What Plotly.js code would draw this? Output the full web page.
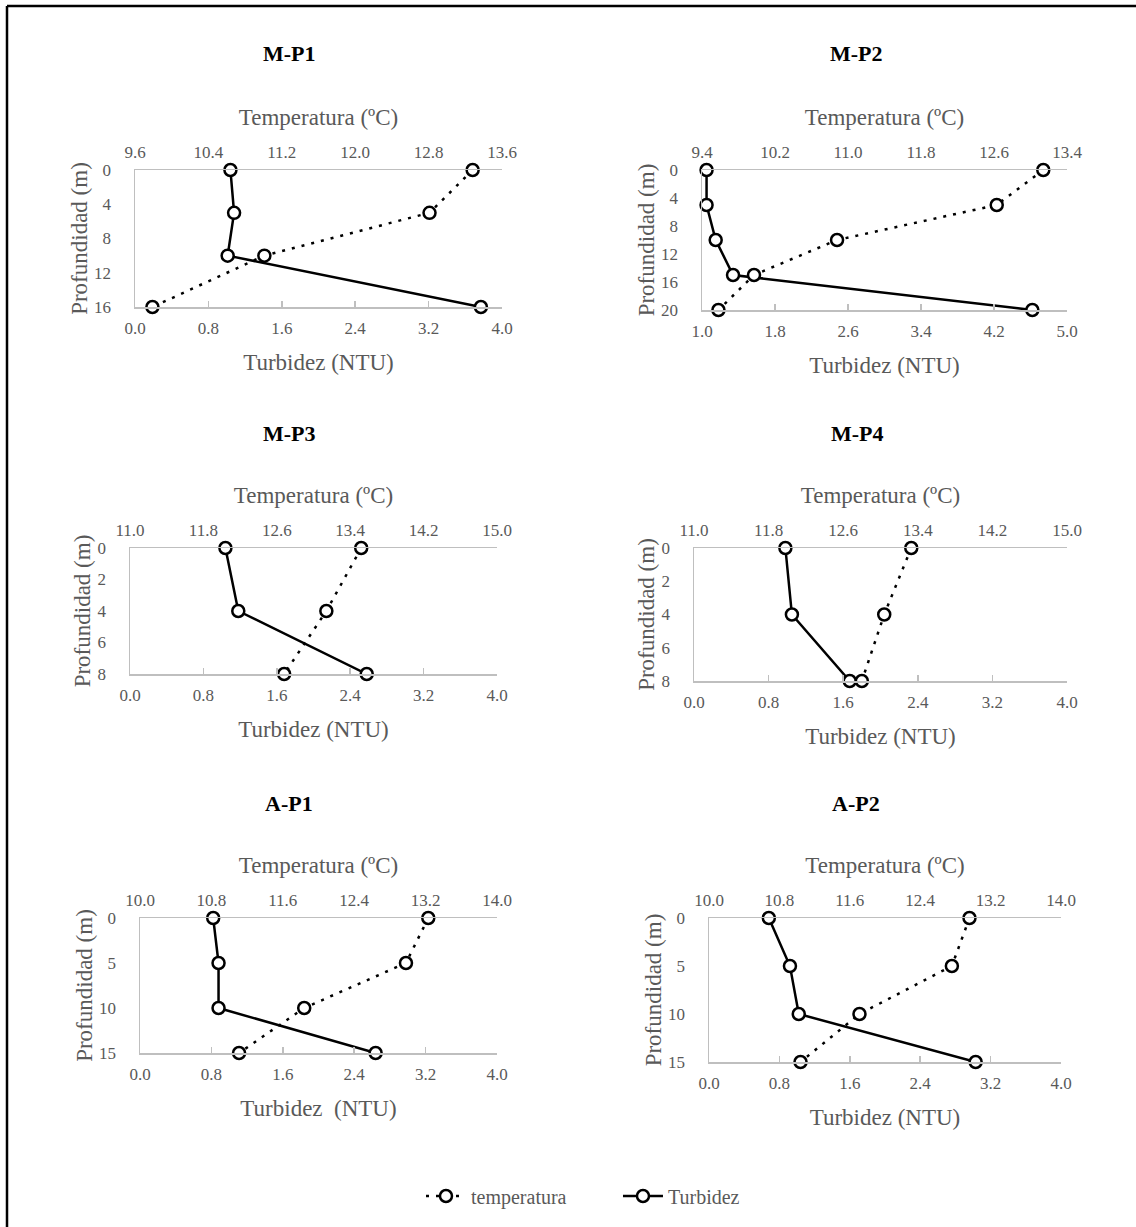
<!DOCTYPE html>
<html>
<head>
<meta charset="utf-8">
<script src="https://cdn.plot.ly/plotly-3.0.1.min.js"></script>
<style>html,body{margin:0;padding:0;background:#fff;}</style>
</head>
<body>
<div id="chart" style="width:1136px;height:1227px;"></div>
<script>
// ---- Data ----
const panelNames = ['M-P1', 'M-P2', 'M-P3', 'M-P4', 'A-P1', 'A-P2'];

const depthMP1 = [0, 5, 10, 16];
const tempMP1  = [13.28, 12.81, 11.01, 9.79];
const turbMP1  = [1.04, 1.08, 1.01, 3.77];

const depthMP2 = [0, 5, 10, 15, 20];
const tempMP2  = [13.14, 12.63, 10.88, 9.97, 9.58];
const turbMP2  = [1.05, 1.05, 1.15, 1.34, 4.62];

const depthMP3 = [0, 4, 8];
const tempMP3  = [13.52, 13.14, 12.68];
const turbMP3  = [1.04, 1.18, 2.58];

const depthMP4 = [0, 4, 8];
const tempMP4  = [13.33, 13.04, 12.80];
const turbMP4  = [0.98, 1.05, 1.67];

const depthAP1 = [0, 5, 10, 15];
const tempAP1  = [13.23, 12.98, 11.84, 11.11];
const turbAP1  = [0.82, 0.88, 0.88, 2.64];

const depthAP2 = [0, 5, 10, 15];
const tempAP2  = [12.96, 12.76, 11.71, 11.04];
const turbAP2  = [0.68, 0.92, 1.02, 3.03];

// axis ranges / ticks
const tempRanges  = [[9.6, 13.6], [9.4, 13.4], [11.0, 15.0], [11.0, 15.0], [10.0, 14.0], [10.0, 14.0]];
const turbRanges  = [[0, 4], [1, 5], [0, 4], [0, 4], [0, 4], [0, 4]];
const depthMax    = [16, 20, 8, 8, 15, 15];
const depthStep   = [4, 4, 2, 2, 5, 5];
const turbTitles  = ['Turbidez (NTU)', 'Turbidez (NTU)', 'Turbidez (NTU)', 'Turbidez (NTU)', 'Turbidez  (NTU)', 'Turbidez (NTU)'];

const seriesNames = ['temperatura', 'Turbidez'];
const tempTitle = 'Temperatura (ºC)';
const depthTitle = 'Profundidad (m)';

const depths = [depthMP1, depthMP2, depthMP3, depthMP4, depthAP1, depthAP2];
const temps  = [tempMP1, tempMP2, tempMP3, tempMP4, tempAP1, tempAP2];
const turbs  = [turbMP1, turbMP2, turbMP3, turbMP4, turbAP1, turbAP2];

// ---- Layout geometry (pixels in the 1136x1227 figure) ----
const W = 1136, H = 1227;
const boxes = [
  {x0: 135, x1: 502, y0: 170, y1: 307, tx: 289, ty: 53},
  {x0: 702, x1: 1067, y0: 170, y1: 310, tx: 856, ty: 53},
  {x0: 130, x1: 497, y0: 548, y1: 674, tx: 289, ty: 433},
  {x0: 694, x1: 1067, y0: 548, y1: 681, tx: 857, ty: 433},
  {x0: 140, x1: 497, y0: 918, y1: 1053, tx: 289, ty: 803},
  {x0: 709, x1: 1061, y0: 918, y1: 1062, tx: 856, ty: 803}
];

const FONT = 'Liberation Serif, Times New Roman, serif';
const GRAY_TEXT = '#595959';
const AXIS_GRAY = '#bfbfbf';

const markerStyle = {symbol: 'circle', size: 12, color: '#ffffff', line: {color: '#000000', width: 2.5}};

const traces = [];
const layout = {
  width: W, height: H,
  margin: {l: 0, r: 0, t: 0, b: 0},
  paper_bgcolor: '#ffffff',
  plot_bgcolor: 'rgba(0,0,0,0)',
  font: {family: FONT, color: GRAY_TEXT},
  showlegend: true,
  legend: {
    orientation: 'h', x: 0.544, y: 1 - 1196 / H, xanchor: 'center', yanchor: 'middle',
    font: {family: FONT, size: 20, color: GRAY_TEXT}, itemwidth: 40, entrywidth: 142
  },
  annotations: [],
  shapes: [
    {type: 'line', xref: 'paper', yref: 'paper', x0: 7 / W, x1: 7 / W, y0: 1 - 6 / H, y1: 0, line: {color: '#000', width: 2.5}},
    {type: 'line', xref: 'paper', yref: 'paper', x0: 7 / W, x1: 1, y0: 1 - 6 / H, y1: 1 - 6 / H, line: {color: '#000', width: 2.5}}
  ]
};

for (let i = 0; i < 6; i++) {
  const b = boxes[i];
  const xb = 'x' + (2 * i + 1), xt = 'x' + (2 * i + 2), y = 'y' + (i + 1);
  const xbKey = 'xaxis' + (2 * i + 1), xtKey = 'xaxis' + (2 * i + 2), yKey = 'yaxis' + (i + 1);
  const xdom = [b.x0 / W, b.x1 / W];
  const ydom = [1 - b.y1 / H, 1 - b.y0 / H];

  traces.push({
    type: 'scatter', mode: 'lines+markers', name: seriesNames[0],
    x: temps[i], y: depths[i], xaxis: xt, yaxis: y,
    line: {color: '#000', width: 2.5, dash: '3px,7px'},
    marker: markerStyle, cliponaxis: false,
    showlegend: i === 0, legendgroup: 'temp'
  });
  traces.push({
    type: 'scatter', mode: 'lines+markers', name: seriesNames[1],
    x: turbs[i], y: depths[i], xaxis: xb, yaxis: y,
    line: {color: '#000', width: 2.5},
    marker: markerStyle, cliponaxis: false,
    showlegend: i === 0, legendgroup: 'turb'
  });

  layout[xbKey] = {
    domain: xdom, anchor: y, side: 'bottom',
    range: turbRanges[i], tick0: turbRanges[i][0], dtick: 0.8, tickformat: '.1f',
    showline: true, linecolor: AXIS_GRAY, linewidth: 1.5,
    ticks: 'inside', ticklen: 6, tickcolor: AXIS_GRAY, tickwidth: 1.5,
    showgrid: false, zeroline: false, ticklabelstandoff: 5,
    tickfont: {family: FONT, size: 17, color: GRAY_TEXT},
    title: {text: turbTitles[i], font: {family: FONT, size: 23, color: GRAY_TEXT}, standoff: 17},
    fixedrange: true
  };
  layout[xtKey] = {
    overlaying: xb, anchor: y, side: 'top',
    range: tempRanges[i], tick0: tempRanges[i][0], dtick: 0.8, tickformat: '.1f',
    showline: true, linecolor: AXIS_GRAY, linewidth: 1.5,
    ticks: '', showgrid: false, zeroline: false, ticklabelstandoff: 4,
    tickfont: {family: FONT, size: 17, color: GRAY_TEXT},
    title: {text: tempTitle, font: {family: FONT, size: 23, color: GRAY_TEXT}, standoff: 10},
    fixedrange: true
  };
  layout[yKey] = {
    domain: ydom, anchor: xb,
    range: [depthMax[i], 0], tick0: 0, dtick: depthStep[i],
    showline: true, linecolor: AXIS_GRAY, linewidth: 1.5,
    ticks: '', showgrid: false, zeroline: false, ticklabelstandoff: 19,
    tickfont: {family: FONT, size: 17, color: GRAY_TEXT},
    title: {text: depthTitle, font: {family: FONT, size: 23, color: GRAY_TEXT}, standoff: 0},
    fixedrange: true
  };

  layout.annotations.push({
    xref: 'paper', yref: 'paper', x: b.tx / W, y: 1 - b.ty / H,
    xanchor: 'center', yanchor: 'middle', showarrow: false,
    text: '<b>' + panelNames[i] + '</b>',
    font: {family: FONT, size: 22, color: '#000000'}
  });
}

Plotly.newPlot('chart', traces, layout, {displayModeBar: false, staticPlot: true});
</script>
</body>
</html>
